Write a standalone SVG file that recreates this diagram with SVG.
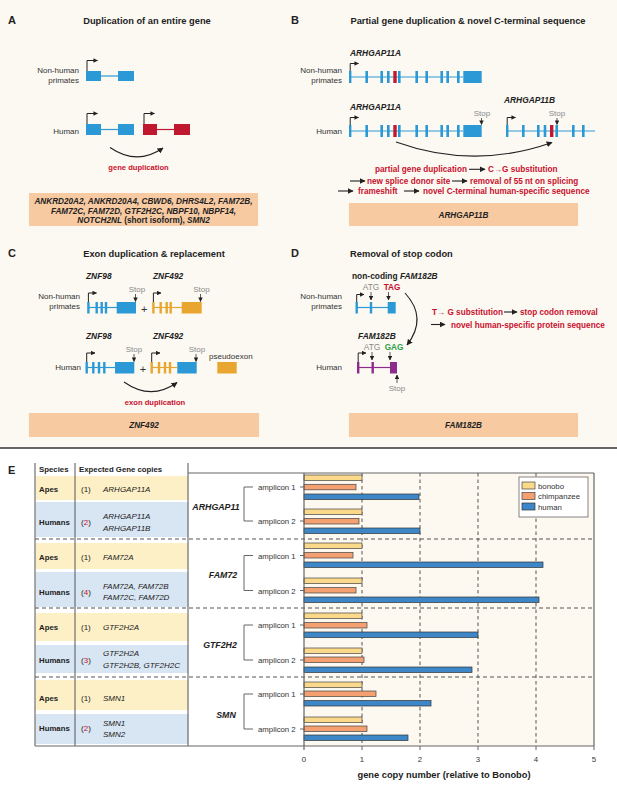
<svg xmlns="http://www.w3.org/2000/svg" width="617" height="793" viewBox="0 0 617 793">
<defs>
<style>
text{font-family:'Liberation Sans',Arial,Helvetica,sans-serif}
.pl{font-size:11px;font-weight:bold;fill:#222}
.ti{font-size:9.3px;font-weight:bold;fill:#222}
.lb{font-size:8px;fill:#333}
.gn{font-size:8.4px;font-weight:bold;font-style:italic;fill:#222}
.st{font-size:8px;fill:#8a8a8a}
.rd{font-size:8.2px;font-weight:bold;fill:#c8102e}
.bx{font-size:8.2px;font-weight:bold;font-style:italic;fill:#222}
.bl{fill:#2a99d5}
.blL{stroke:#2a99d5;stroke-width:1.2;fill:none}
.rdF{fill:#c0182f}
.rdL{stroke:#c0182f;stroke-width:1.2;fill:none}
.orF{fill:#e8a630}
.orL{stroke:#e8a630;stroke-width:1.2;fill:none}
.puF{fill:#8e2c8e}
.puL{stroke:#8e2c8e;stroke-width:1.2;fill:none}
.pr{stroke:#222;stroke-width:1;fill:none;marker-end:url(#ahs)}
.ar{stroke:#222;stroke-width:1.1;fill:none;marker-end:url(#ah)}
.sa{stroke:#333;stroke-width:0.8;fill:none;marker-end:url(#ahs)}
.box{fill:#f8caa2}
.th{font-size:7.8px;font-weight:bold;fill:#222}
.tc{font-size:8px;fill:#222}
.tg{font-size:8px;font-style:italic;fill:#222}
.dash{stroke:#555;stroke-width:1.2;stroke-dasharray:4 3;fill:none}
.grid{stroke:#555;stroke-width:1;stroke-dasharray:3.5 3;fill:none}
.frame{stroke:#666;stroke-width:1.2;fill:none}
.bon{fill:#fbd98a;stroke:#444;stroke-width:0.7}
.chi{fill:#f4a070;stroke:#444;stroke-width:0.7}
.hum{fill:#3d87c8;stroke:#333;stroke-width:0.7}
.amp{font-size:7.8px;fill:#333}
.cg{font-size:8.8px;font-weight:bold;font-style:italic;fill:#222}
</style>
<marker id="ah" viewBox="0 0 10 10" refX="9" refY="5" markerWidth="6" markerHeight="6" markerUnits="userSpaceOnUse" orient="auto"><path d="M0,0 L10,5 L0,10 z" fill="#222"/></marker>
<marker id="ahs" viewBox="0 0 10 10" refX="9" refY="5" markerWidth="4.5" markerHeight="4.5" markerUnits="userSpaceOnUse" orient="auto"><path d="M0,0 L10,5 L0,10 z" fill="#222"/></marker>
</defs>

<rect x="0" y="0" width="617" height="448" fill="#fcf9f2"/>
<rect x="0" y="448" width="617" height="345" fill="#ffffff"/>
<line x1="0" y1="448" x2="617" y2="448" stroke="#333" stroke-width="1.5"/>

<!-- Panel A -->
<g id="panelA">
<text class="pl" x="8" y="24">A</text>
<text class="ti" x="147" y="23.5" text-anchor="middle">Duplication of an entire gene</text>
<text class="lb" x="79" y="73" text-anchor="end">Non-human</text>
<text class="lb" x="79" y="83" text-anchor="end">primates</text>
<line class="blL" x1="101" y1="76" x2="118" y2="76"/>
<rect class="bl" x="86" y="71" width="15" height="10"/>
<rect class="bl" x="118" y="71" width="16" height="10"/>
<path class="pr" d="M87 71 V60.5 H97.5"/>
<text class="lb" x="79" y="133.5" text-anchor="end">Human</text>
<line class="blL" x1="101" y1="129.5" x2="118" y2="129.5"/>
<rect class="bl" x="86" y="124" width="15" height="11"/>
<rect class="bl" x="118" y="124" width="16" height="11"/>
<path class="pr" d="M87 124 V113.5 H97.5"/>
<line class="rdL" x1="157" y1="129.5" x2="174" y2="129.5"/>
<rect class="rdF" x="143" y="124" width="14" height="11"/>
<rect class="rdF" x="174" y="124" width="16" height="11"/>
<path class="pr" d="M144 124 V113.5 H154.5"/>
<path class="ar" d="M110 147.5 Q137 166 163 148"/>
<text class="rd" x="138.5" y="169.5" text-anchor="middle" style="font-size:7.6px">gene duplication</text>
<rect class="box" x="29" y="193" width="229" height="33"/>
<text class="bx" x="143.5" y="204" text-anchor="middle">ANKRD20A2, ANKRD20A4, CBWD6, DHRS4L2, FAM72B,</text>
<text class="bx" x="143.5" y="213.5" text-anchor="middle">FAM72C, FAM72D, GTF2H2C, NBPF10, NBPF14,</text>
<text class="bx" x="143.5" y="223" text-anchor="middle">NOTCH2NL<tspan style="font-style:normal"> (short isoform), </tspan>SMN2</text>
</g>

<!-- Panel B -->
<g id="panelB">
<text class="pl" x="291" y="24">B</text>
<text class="ti" x="468" y="23.5" text-anchor="middle">Partial gene duplication &amp; novel C-terminal sequence</text>
<text class="gn" x="350" y="56">ARHGAP11A</text>
<text class="lb" x="342" y="73" text-anchor="end">Non-human</text>
<text class="lb" x="342" y="83" text-anchor="end">primates</text>
<g id="B_nhp">
<line class="blL" x1="350" y1="77" x2="463" y2="77"/>
<rect class="bl" x="349" y="71" width="2.4" height="12"/>
<rect class="bl" x="365.4" y="71" width="2.6" height="12"/>
<rect class="bl" x="380.4" y="71" width="2.6" height="12"/>
<rect class="bl" x="387" y="71" width="2.6" height="12"/>
<rect class="rdF" x="393.3" y="71" width="3.4" height="12"/>
<rect class="bl" x="398" y="71" width="2.6" height="12"/>
<rect class="bl" x="415.4" y="71" width="2.6" height="12"/>
<rect class="bl" x="425.4" y="71" width="2.6" height="12"/>
<rect class="bl" x="440.4" y="71" width="2.6" height="12"/>
<rect class="bl" x="446.4" y="71" width="2.6" height="12"/>
<rect class="bl" x="457" y="71" width="2.6" height="12"/>
<rect class="bl" x="463.3" y="71" width="18.4" height="12"/>
<path class="pr" d="M350.2 71 V63.5 H358.5"/>
</g>
<text class="gn" x="350" y="110">ARHGAP11A</text>
<text class="gn" x="504" y="103">ARHGAP11B</text>
<text class="lb" x="342" y="134" text-anchor="end">Human</text>
<g id="B_humA">
<line class="blL" x1="350" y1="131" x2="463" y2="131"/>
<rect class="bl" x="349" y="125" width="2.4" height="12"/>
<rect class="bl" x="365.4" y="125" width="2.6" height="12"/>
<rect class="bl" x="380.4" y="125" width="2.6" height="12"/>
<rect class="bl" x="387" y="125" width="2.6" height="12"/>
<rect class="rdF" x="393.3" y="125" width="3.4" height="12"/>
<rect class="bl" x="398" y="125" width="2.6" height="12"/>
<rect class="bl" x="415.4" y="125" width="2.6" height="12"/>
<rect class="bl" x="425.4" y="125" width="2.6" height="12"/>
<rect class="bl" x="440.4" y="125" width="2.6" height="12"/>
<rect class="bl" x="446.4" y="125" width="2.6" height="12"/>
<rect class="bl" x="457" y="125" width="2.6" height="12"/>
<rect class="bl" x="463.3" y="125" width="18.4" height="12"/>
<path class="pr" d="M350.2 125 V117.5 H358.5"/>
<text class="st" x="482" y="116" text-anchor="middle">Stop</text>
<line class="sa" x1="481.5" y1="118" x2="481.5" y2="124.5"/>
</g>
<g id="B_humB">
<line class="blL" x1="507" y1="131" x2="595" y2="131"/>
<rect class="bl" x="506" y="125" width="2.4" height="12"/>
<rect class="bl" x="522" y="125" width="2.6" height="12"/>
<rect class="bl" x="537" y="125" width="2.6" height="12"/>
<rect class="bl" x="543.7" y="125" width="2.6" height="12"/>
<rect class="rdF" x="550" y="125" width="3.4" height="12"/>
<rect class="bl" x="555.4" y="125" width="2.6" height="12"/>
<rect class="bl" x="572" y="125" width="2.6" height="12"/>
<rect class="bl" x="582" y="125" width="2.6" height="12"/>
<path class="pr" d="M507.2 125 V117.5 H515.5"/>
<text class="st" x="557" y="116" text-anchor="middle">Stop</text>
<line class="sa" x1="557" y1="118" x2="557" y2="124.5"/>
</g>
<path class="ar" d="M396 142 Q474 170 552 142.5"/>
<text class="rd" x="375" y="172">partial gene duplication</text>
<line class="ar" x1="469" y1="169.3" x2="485" y2="169.3"/>
<text class="rd" x="488" y="172">C→G substitution</text>
<line class="ar" x1="350" y1="181" x2="365" y2="181"/>
<text class="rd" x="367" y="184">new splice donor site</text>
<line class="ar" x1="452" y1="181" x2="467" y2="181"/>
<text class="rd" x="470" y="184">removal of 55 nt on splicing</text>
<line class="ar" x1="338" y1="191" x2="353" y2="191"/>
<text class="rd" x="358" y="194">frameshift</text>
<line class="ar" x1="404" y1="191" x2="419" y2="191"/>
<text class="rd" x="423" y="194">novel C-terminal human-specific sequence</text>
<rect class="box" x="349" y="203" width="229" height="23"/>
<text class="bx" x="463.5" y="217.5" text-anchor="middle">ARHGAP11B</text>
</g>

<!-- Panel C -->
<g id="panelC">
<text class="pl" x="8" y="257">C</text>
<text class="ti" x="154" y="256.5" text-anchor="middle">Exon duplication &amp; replacement</text>
<text class="gn" x="86" y="279">ZNF98</text>
<text class="gn" x="153" y="279">ZNF492</text>
<text class="lb" x="80" y="299" text-anchor="end">Non-human</text>
<text class="lb" x="80" y="309" text-anchor="end">primates</text>
<g id="C_nhp_blue">
<line class="blL" x1="88" y1="307.5" x2="117" y2="307.5"/>
<rect class="bl" x="87.2" y="302" width="2.4" height="11.5"/>
<rect class="bl" x="95.5" y="302" width="2.4" height="11.5"/>
<rect class="bl" x="100.5" y="302" width="2.4" height="11.5"/>
<rect class="bl" x="104.8" y="302" width="2.4" height="11.5"/>
<rect class="bl" x="116.7" y="302" width="19.3" height="11.5"/>
<path class="pr" d="M88.4 302 V293 H96.5"/>
<text class="st" x="137" y="292" text-anchor="middle">Stop</text>
<line class="sa" x1="135.5" y1="294" x2="135.5" y2="301.5"/>
</g>
<text x="144.3" y="312.5" text-anchor="middle" style="font-size:11px;fill:#333">+</text>
<g id="C_nhp_orange">
<line class="orL" x1="153" y1="307.5" x2="182" y2="307.5"/>
<rect class="orF" x="152.2" y="302" width="2.4" height="11.5"/>
<rect class="orF" x="159.5" y="302" width="2.4" height="11.5"/>
<rect class="orF" x="165.5" y="302" width="2.4" height="11.5"/>
<rect class="orF" x="169.5" y="302" width="2.4" height="11.5"/>
<rect class="orF" x="181.7" y="302" width="20" height="11.5"/>
<path class="pr" d="M153.4 302 V293 H161"/>
<text class="st" x="201.5" y="292" text-anchor="middle">Stop</text>
<line class="sa" x1="200.5" y1="294" x2="200.5" y2="301.5"/>
</g>
<text class="gn" x="86" y="339">ZNF98</text>
<text class="gn" x="153" y="339">ZNF492</text>
<text class="lb" x="81" y="370" text-anchor="end">Human</text>
<g id="C_hum_blue">
<line class="blL" x1="87" y1="367.5" x2="115" y2="367.5"/>
<rect class="bl" x="85.5" y="362" width="2.4" height="11.5"/>
<rect class="bl" x="92.1" y="362" width="2.4" height="11.5"/>
<rect class="bl" x="97.8" y="362" width="2.4" height="11.5"/>
<rect class="bl" x="103.1" y="362" width="2.4" height="11.5"/>
<rect class="bl" x="115" y="362" width="19.3" height="11.5"/>
<path class="pr" d="M86.7 362 V353 H95"/>
<text class="st" x="134" y="351.5" text-anchor="middle">Stop</text>
<line class="sa" x1="134" y1="354" x2="134" y2="361.5"/>
</g>
<text x="143" y="373" text-anchor="middle" style="font-size:11px;fill:#333">+</text>
<g id="C_hum_orange">
<line class="orL" x1="152" y1="367.5" x2="177.3" y2="367.5"/>
<rect class="orF" x="150.5" y="362" width="2.4" height="11.5"/>
<rect class="orF" x="157.8" y="362" width="2.4" height="11.5"/>
<rect class="orF" x="163.8" y="362" width="2.4" height="11.5"/>
<rect class="orF" x="168.8" y="362" width="2.4" height="11.5"/>
<rect class="bl" x="177.3" y="362" width="19.4" height="11.5"/>
<path class="pr" d="M151.7 362 V353 H160"/>
<text class="st" x="197" y="351.5" text-anchor="middle">Stop</text>
<line class="sa" x1="196" y1="354" x2="196" y2="361.5"/>
</g>
<text class="lb" x="209" y="359">pseudoexon</text>
<rect class="orF" x="217.3" y="362" width="19.4" height="11.5"/>
<path class="ar" d="M124 382 Q151 401 177 382.5"/>
<text class="rd" x="155" y="405" text-anchor="middle" style="font-size:7.6px">exon duplication</text>
<rect class="box" x="29" y="413" width="230" height="24"/>
<text class="bx" x="144" y="428" text-anchor="middle">ZNF492</text>
</g>

<!-- Panel D -->
<g id="panelD">
<text class="pl" x="291" y="257">D</text>
<text class="ti" x="350" y="256.5">Removal of stop codon</text>
<text class="gn" x="352" y="279" style="font-style:normal">non-coding <tspan style="font-style:italic">FAM182B</tspan></text>
<text class="st" x="371" y="290" text-anchor="middle" style="font-size:8.4px">ATG</text>
<text class="rd" x="392" y="290" text-anchor="middle">TAG</text>
<line class="sa" x1="371" y1="292" x2="371" y2="300"/>
<line class="sa" x1="388.5" y1="292" x2="388.5" y2="300"/>
<text class="lb" x="342" y="299" text-anchor="end">Non-human</text>
<text class="lb" x="342" y="309" text-anchor="end">primates</text>
<g id="D_nhp">
<line class="blL" x1="357" y1="307.5" x2="388" y2="307.5"/>
<rect class="bl" x="355.5" y="302" width="2.4" height="11.5"/>
<rect class="bl" x="369.8" y="302" width="2.4" height="11.5"/>
<rect class="bl" x="387.7" y="302" width="8" height="11.5"/>
<path class="pr" d="M356.7 302 V294.5 H364"/>
</g>
<path class="ar" d="M405 293 Q428 318 407 345"/>
<text class="gn" x="358" y="339">FAM182B</text>
<text class="st" x="372" y="350" text-anchor="middle" style="font-size:8.4px">ATG</text>
<text class="rd" x="394" y="350" text-anchor="middle" style="fill:#2e9e48">GAG</text>
<line class="sa" x1="372" y1="352" x2="372" y2="360"/>
<line class="sa" x1="390" y1="352" x2="390" y2="360"/>
<text class="lb" x="342" y="370" text-anchor="end">Human</text>
<g id="D_hum">
<line class="puL" x1="358" y1="367.5" x2="390" y2="367.5"/>
<rect class="puF" x="357" y="362" width="2.4" height="11.5"/>
<rect class="puF" x="371.5" y="362" width="2.4" height="11.5"/>
<rect class="puF" x="390" y="362" width="7" height="11.5"/>
<path class="pr" d="M358.2 362 V353 H366"/>
<line class="sa" x1="397" y1="383" x2="397" y2="375"/>
<text class="st" x="397" y="390.5" text-anchor="middle">Stop</text>
</g>
<text class="rd" x="432" y="315">T→ G substitution</text>
<line class="ar" x1="504" y1="312" x2="517" y2="312"/>
<text class="rd" x="520" y="315">stop codon removal</text>
<line class="ar" x1="431" y1="324.5" x2="445" y2="324.5"/>
<text class="rd" x="451" y="327.5">novel human-specific protein sequence</text>
<rect class="box" x="349" y="413" width="229" height="24"/>
<text class="bx" x="463.5" y="428" text-anchor="middle">FAM182B</text>
</g>

<!-- Panel E table -->
<g id="panelE_table">
<text class="pl" x="8" y="474">E</text>
<rect x="35.5" y="476" width="153" height="24" fill="#fdf0c6"/>
<rect x="35.5" y="502" width="153" height="35" fill="#d8e5f3"/>
<rect x="35.5" y="543" width="153" height="26" fill="#fdf0c6"/>
<rect x="35.5" y="572" width="153" height="35" fill="#d8e5f3"/>
<rect x="35.5" y="613" width="153" height="28" fill="#fdf0c6"/>
<rect x="35.5" y="645" width="153" height="28" fill="#d8e5f3"/>
<rect x="35.5" y="680" width="153" height="30" fill="#fdf0c6"/>
<rect x="35.5" y="714" width="153" height="30" fill="#d8e5f3"/>
<line x1="35" y1="463" x2="35" y2="746" stroke="#555" stroke-width="1"/>
<line x1="75" y1="463" x2="75" y2="746" stroke="#555" stroke-width="1"/>
<line x1="188" y1="463" x2="188" y2="746" stroke="#555" stroke-width="1"/>
<text class="th" x="39" y="472">Species</text>
<text class="th" x="79" y="472">Expected Gene copies</text>
<text class="th" x="39" y="492">Apes</text><text class="tc" x="81" y="492">(1)</text><text class="tg" x="103" y="492">ARHGAP11A</text>
<text class="th" x="39" y="525">Humans</text><text class="tc" x="81" y="525">(<tspan fill="#c8102e">2</tspan>)</text>
<text class="tg" x="103" y="519">ARHGAP11A</text><text class="tg" x="103" y="531">ARHGAP11B</text>
<text class="th" x="39" y="560">Apes</text><text class="tc" x="81" y="560">(1)</text><text class="tg" x="103" y="560">FAM72A</text>
<text class="th" x="39" y="595">Humans</text><text class="tc" x="81" y="595">(<tspan fill="#c8102e">4</tspan>)</text>
<text class="tg" x="103" y="589">FAM72A, FAM72B</text><text class="tg" x="103" y="600">FAM72C, FAM72D</text>
<text class="th" x="39" y="630">Apes</text><text class="tc" x="81" y="630">(1)</text><text class="tg" x="103" y="630">GTF2H2A</text>
<text class="th" x="39" y="663">Humans</text><text class="tc" x="81" y="663">(<tspan fill="#c8102e">3</tspan>)</text>
<text class="tg" x="103" y="656">GTF2H2A</text><text class="tg" x="103" y="668">GTF2H2B, GTF2H2C</text>
<text class="th" x="39" y="700.5">Apes</text><text class="tc" x="81" y="700.5">(1)</text><text class="tg" x="103" y="700.5">SMN1</text>
<text class="th" x="39" y="731">Humans</text><text class="tc" x="81" y="731">(<tspan fill="#c8102e">2</tspan>)</text>
<text class="tg" x="103" y="726">SMN1</text><text class="tg" x="103" y="737">SMN2</text>
</g>

<!-- Panel E chart -->
<g id="panelE_chart">
<rect x="304" y="473" width="290" height="273" fill="#fdf8f0"/>
<g id="gridlines">
<line class="grid" x1="362" y1="473" x2="362" y2="746"/>
<line class="grid" x1="420" y1="473" x2="420" y2="746"/>
<line class="grid" x1="478" y1="473" x2="478" y2="746"/>
<line class="grid" x1="536" y1="473" x2="536" y2="746"/>
</g>
<line class="dash" x1="35" y1="539" x2="594" y2="539"/>
<line class="dash" x1="35" y1="608" x2="594" y2="608"/>
<line class="dash" x1="35" y1="677" x2="594" y2="677"/>
<g id="bars">
<rect class="bon" x="304" y="475" width="58" height="5.5"/>
<rect class="chi" x="304" y="484.3" width="52" height="5.5"/>
<rect class="hum" x="304" y="494" width="115" height="5.5"/>
<rect class="bon" x="304" y="509" width="58" height="5.5"/>
<rect class="chi" x="304" y="518.5" width="55" height="5.5"/>
<rect class="hum" x="304" y="528" width="116" height="5.5"/>
<rect class="bon" x="304" y="543" width="58" height="5.5"/>
<rect class="chi" x="304" y="552.5" width="49" height="5.5"/>
<rect class="hum" x="304" y="562" width="239" height="5.5"/>
<rect class="bon" x="304" y="578" width="58" height="5.5"/>
<rect class="chi" x="304" y="587.5" width="52" height="5.5"/>
<rect class="hum" x="304" y="597" width="235" height="5.5"/>
<rect class="bon" x="304" y="613" width="58" height="5.5"/>
<rect class="chi" x="304" y="622.5" width="63" height="5.5"/>
<rect class="hum" x="304" y="632" width="174" height="5.5"/>
<rect class="bon" x="304" y="648" width="58" height="5.5"/>
<rect class="chi" x="304" y="657" width="60" height="5.5"/>
<rect class="hum" x="304" y="667" width="168" height="5.5"/>
<rect class="bon" x="304" y="682" width="58" height="5.5"/>
<rect class="chi" x="304" y="691" width="72" height="5.5"/>
<rect class="hum" x="304" y="700.5" width="127" height="5.5"/>
<rect class="bon" x="304" y="717" width="58" height="5.5"/>
<rect class="chi" x="304" y="726" width="63" height="5.5"/>
<rect class="hum" x="304" y="735" width="104" height="5.5"/>
</g>
<line class="frame" x1="188" y1="473" x2="594" y2="473"/>
<line class="frame" x1="35" y1="746" x2="594" y2="746"/>
<line class="frame" x1="594" y1="473" x2="594" y2="746"/>
<line class="frame" x1="304" y1="473" x2="304" y2="750"/>
<g id="xticks" stroke="#666" stroke-width="1">
<line x1="362" y1="746" x2="362" y2="750"/>
<line x1="420" y1="746" x2="420" y2="750"/>
<line x1="478" y1="746" x2="478" y2="750"/>
<line x1="536" y1="746" x2="536" y2="750"/>
<line x1="594" y1="746" x2="594" y2="750"/>
</g>
<g font-size="7.8" fill="#333">
<text class="amp" x="304" y="762" text-anchor="middle">0</text>
<text class="amp" x="362" y="762" text-anchor="middle">1</text>
<text class="amp" x="420" y="762" text-anchor="middle">2</text>
<text class="amp" x="478" y="762" text-anchor="middle">3</text>
<text class="amp" x="536" y="762" text-anchor="middle">4</text>
<text class="amp" x="594" y="762" text-anchor="middle">5</text>
</g>
<text x="444" y="778" text-anchor="middle" style="font-size:9.3px;font-weight:bold;fill:#222">gene copy number (relative to Bonobo)</text>
<g id="amplicons" stroke="#666" stroke-width="1" fill="none">
<path d="M253 487 H244 V521 H253"/>
<path d="M253 555.5 H244 V590.5 H253"/>
<path d="M253 625 H244 V660 H253"/>
<path d="M253 694 H244 V729 H253"/>
<path d="M300 487 H304 M300 521 H304 M300 555.5 H304 M300 590.5 H304 M300 625 H304 M300 660 H304 M300 694 H304 M300 729 H304"/>
</g>
<text class="amp" x="258" y="490">amplicon 1</text>
<text class="amp" x="258" y="524">amplicon 2</text>
<text class="amp" x="258" y="558.5">amplicon 1</text>
<text class="amp" x="258" y="593.5">amplicon 2</text>
<text class="amp" x="258" y="628">amplicon 1</text>
<text class="amp" x="258" y="663">amplicon 2</text>
<text class="amp" x="258" y="697">amplicon 1</text>
<text class="amp" x="258" y="732">amplicon 2</text>
<text class="cg" x="216" y="510" text-anchor="middle">ARHGAP11</text>
<text class="cg" x="223" y="578" text-anchor="middle">FAM72</text>
<text class="cg" x="220" y="648" text-anchor="middle">GTF2H2</text>
<text class="cg" x="226" y="718" text-anchor="middle">SMN</text>
<g id="legend">
<rect x="519" y="477" width="69" height="40" fill="#fff" stroke="#666" stroke-width="0.8"/>
<rect class="bon" x="522" y="482" width="13" height="7"/>
<rect class="chi" x="522" y="492.5" width="13" height="7"/>
<rect class="hum" x="522" y="503" width="13" height="7"/>
<text class="amp" x="538" y="488.5">bonobo</text>
<text class="amp" x="538" y="499">chimpanzee</text>
<text class="amp" x="538" y="509.5">human</text>
</g>
</g>
</svg>
